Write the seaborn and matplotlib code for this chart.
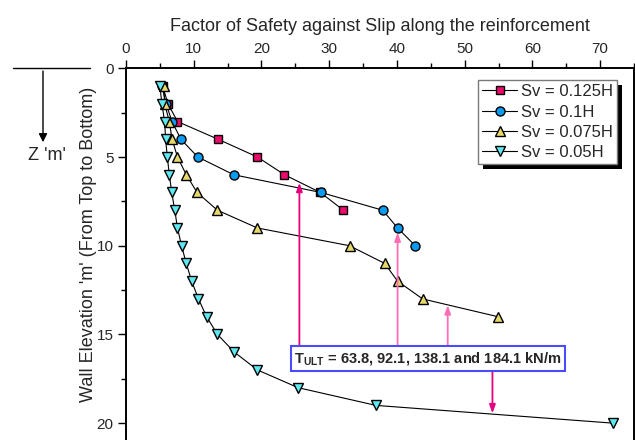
import pandas as pd
import matplotlib
matplotlib.use('Agg')
import matplotlib.pyplot as plt
from matplotlib.ticker import MultipleLocator
from matplotlib.patches import Rectangle, FancyArrowPatch
from matplotlib.transforms import IdentityTransform
import seaborn as sns

# Factor of safety against slip, per depth z (m)
z_125 = [1, 2, 3, 4, 5, 6, 7, 8]
fs_125 = [5.4, 6.2, 7.6, 13.6, 19.4, 23.4, 28.7, 32.1]

z_100 = [1, 2, 3, 4, 5, 6, 7, 8, 9, 10]
fs_100 = [5.3, 5.9, 6.8, 8.1, 10.6, 15.9, 28.8, 37.9, 40.1, 42.7]

z_075 = [1, 2, 3, 4, 5, 6, 7, 8, 9, 10, 11, 12, 13, 14]
fs_075 = [5.6, 5.7, 6.4, 6.8, 7.6, 8.9, 10.5, 13.5, 19.4, 33.0, 38.2, 40.1, 43.8, 54.9]

z_050 = [1, 2, 3, 4, 5, 6, 7, 8, 9, 10, 11, 12, 13, 14, 15, 16, 17, 18, 19, 20]
fs_050 = [5.0, 5.3, 5.7, 5.85, 6.1, 6.4, 6.75, 7.2, 7.6, 8.2, 8.9, 9.7, 10.7, 11.9,
          13.5, 16.0, 19.4, 25.4, 36.9, 71.9]

labels = ['Sv = 0.125H', 'Sv = 0.1H', 'Sv = 0.075H', 'Sv = 0.05H']
colors = ['#EC0A6E', '#0A9CF0', '#E6D86A', '#5EE8F2']
markers = ['s', 'o', '^', 'v']
sizes = [5.5, 6.5, 7, 7]

# arrows from the T_ULT box to the curves: x, y_start, y_end
arrow_x = [25.6, 40.1, 47.5, 54.1]
arrow_y0 = [15.95, 15.95, 15.95, 16.95]
arrow_y1 = [6.45, 9.25, 13.35, 19.45]
arrow_colors = ['#E6007E', '#FF6EB4', '#FF6EB4', '#E6007E']

sns.set_style('ticks')
plt.rcParams['font.family'] = ['Liberation Sans', 'DejaVu Sans']
plt.rcParams['mathtext.fontset'] = 'custom'
plt.rcParams['mathtext.rm'] = 'Liberation Sans'
plt.rcParams['mathtext.bf'] = 'Liberation Sans:bold'

fig = plt.figure(figsize=(6.35, 4.4), dpi=100)
ax = fig.add_axes([126 / 635, 0.0, 508 / 635, 1 - 68.3 / 440])

series = [(z_125, fs_125), (z_100, fs_100), (z_075, fs_075), (z_050, fs_050)]
for (z, fs), lab, c, m, ms in zip(series, labels, colors, markers, sizes):
    df = pd.DataFrame({'fs': fs, 'z': z})
    sns.lineplot(data=df, x='fs', y='z', sort=False, estimator=None, ax=ax,
                 color='black', lw=0.8, marker=m, markersize=ms,
                 markerfacecolor=c, markeredgecolor='black', markeredgewidth=1,
                 label=lab)

for x, y0, y1, c in zip(arrow_x, arrow_y0, arrow_y1, arrow_colors):
    ax.annotate('', xy=(x, y1), xytext=(x, y0),
                arrowprops=dict(arrowstyle='-|>,head_length=0.5,head_width=0.18',
                                color=c, lw=1.3, shrinkA=0, shrinkB=0))

ax.text(44.6, 16.35, r'$\mathbf{T_{ULT}}$' + ' = 63.8, 92.1, 138.1 and 184.1 kN/m',
        ha='center', va='center', fontsize=10.5, fontweight='bold', zorder=5,
        bbox=dict(boxstyle='square,pad=0.25', fc='white', ec='#4A4AFF', lw=1.5))

ax.set_xlim(0, 75)
ax.set_ylim(20.95, 0)
ax.xaxis.tick_top()
ax.xaxis.set_label_position('top')
ax.xaxis.set_major_locator(MultipleLocator(10))
ax.xaxis.set_minor_locator(MultipleLocator(5))
ax.yaxis.set_major_locator(MultipleLocator(5))
ax.yaxis.set_minor_locator(MultipleLocator(2.5))
ax.tick_params(which='major', length=6, width=1, labelsize=11, color='black', pad=3)
ax.tick_params(which='minor', length=3.5, width=1, color='black')
ax.tick_params(axis='x', which='both', top=True, bottom=False)
ax.tick_params(axis='y', which='both', left=True, right=False)
for s in ['top', 'left', 'right']:
    ax.spines[s].set_color('black')
    ax.spines[s].set_linewidth(1.4)
ax.spines['bottom'].set_visible(False)

ax.set_xlabel('Factor of Safety against Slip along the reinforcement', fontsize=13, labelpad=8)
ax.set_ylabel("Wall Elevation 'm' (From Top to Bottom)", fontsize=13)
ax.yaxis.set_label_coords(-0.058, 0.526)

leg = ax.legend(loc='upper right', bbox_to_anchor=(0.9665, 0.9685), fontsize=12,
                frameon=True, fancybox=False, edgecolor='#7A7A7A', framealpha=1,
                handlelength=2.1, borderpad=0.25, labelspacing=0.32,
                handletextpad=0.2, borderaxespad=0)
leg.get_frame().set_linewidth(1)
leg.set_zorder(6)

# solid black drop shadow, offset a few pixels right and down
fig.canvas.draw()
bb = leg.get_window_extent()
shadow = Rectangle((bb.x0 + 5, bb.y0 - 5), bb.width, bb.height,
                   transform=IdentityTransform(), fc='black', ec='none',
                   zorder=5.5, clip_on=False)
ax.add_artist(shadow)

# depth indicator in the left margin
fig.add_artist(plt.Line2D([13 / 635, 90 / 635], [1 - 68.3 / 440, 1 - 68.3 / 440],
                          color='black', lw=1))
fig.add_artist(FancyArrowPatch(
    (43 / 635, 1 - 68.3 / 440), (43 / 635, 1 - 145 / 440),
    transform=fig.transFigure, arrowstyle='-|>,head_length=5,head_width=2.5',
    color='black', lw=1, mutation_scale=1))
fig.text(47 / 635, 1 - 155 / 440, "Z 'm'", ha='center', va='center', fontsize=13)

fig.savefig('out.png', dpi=100)
